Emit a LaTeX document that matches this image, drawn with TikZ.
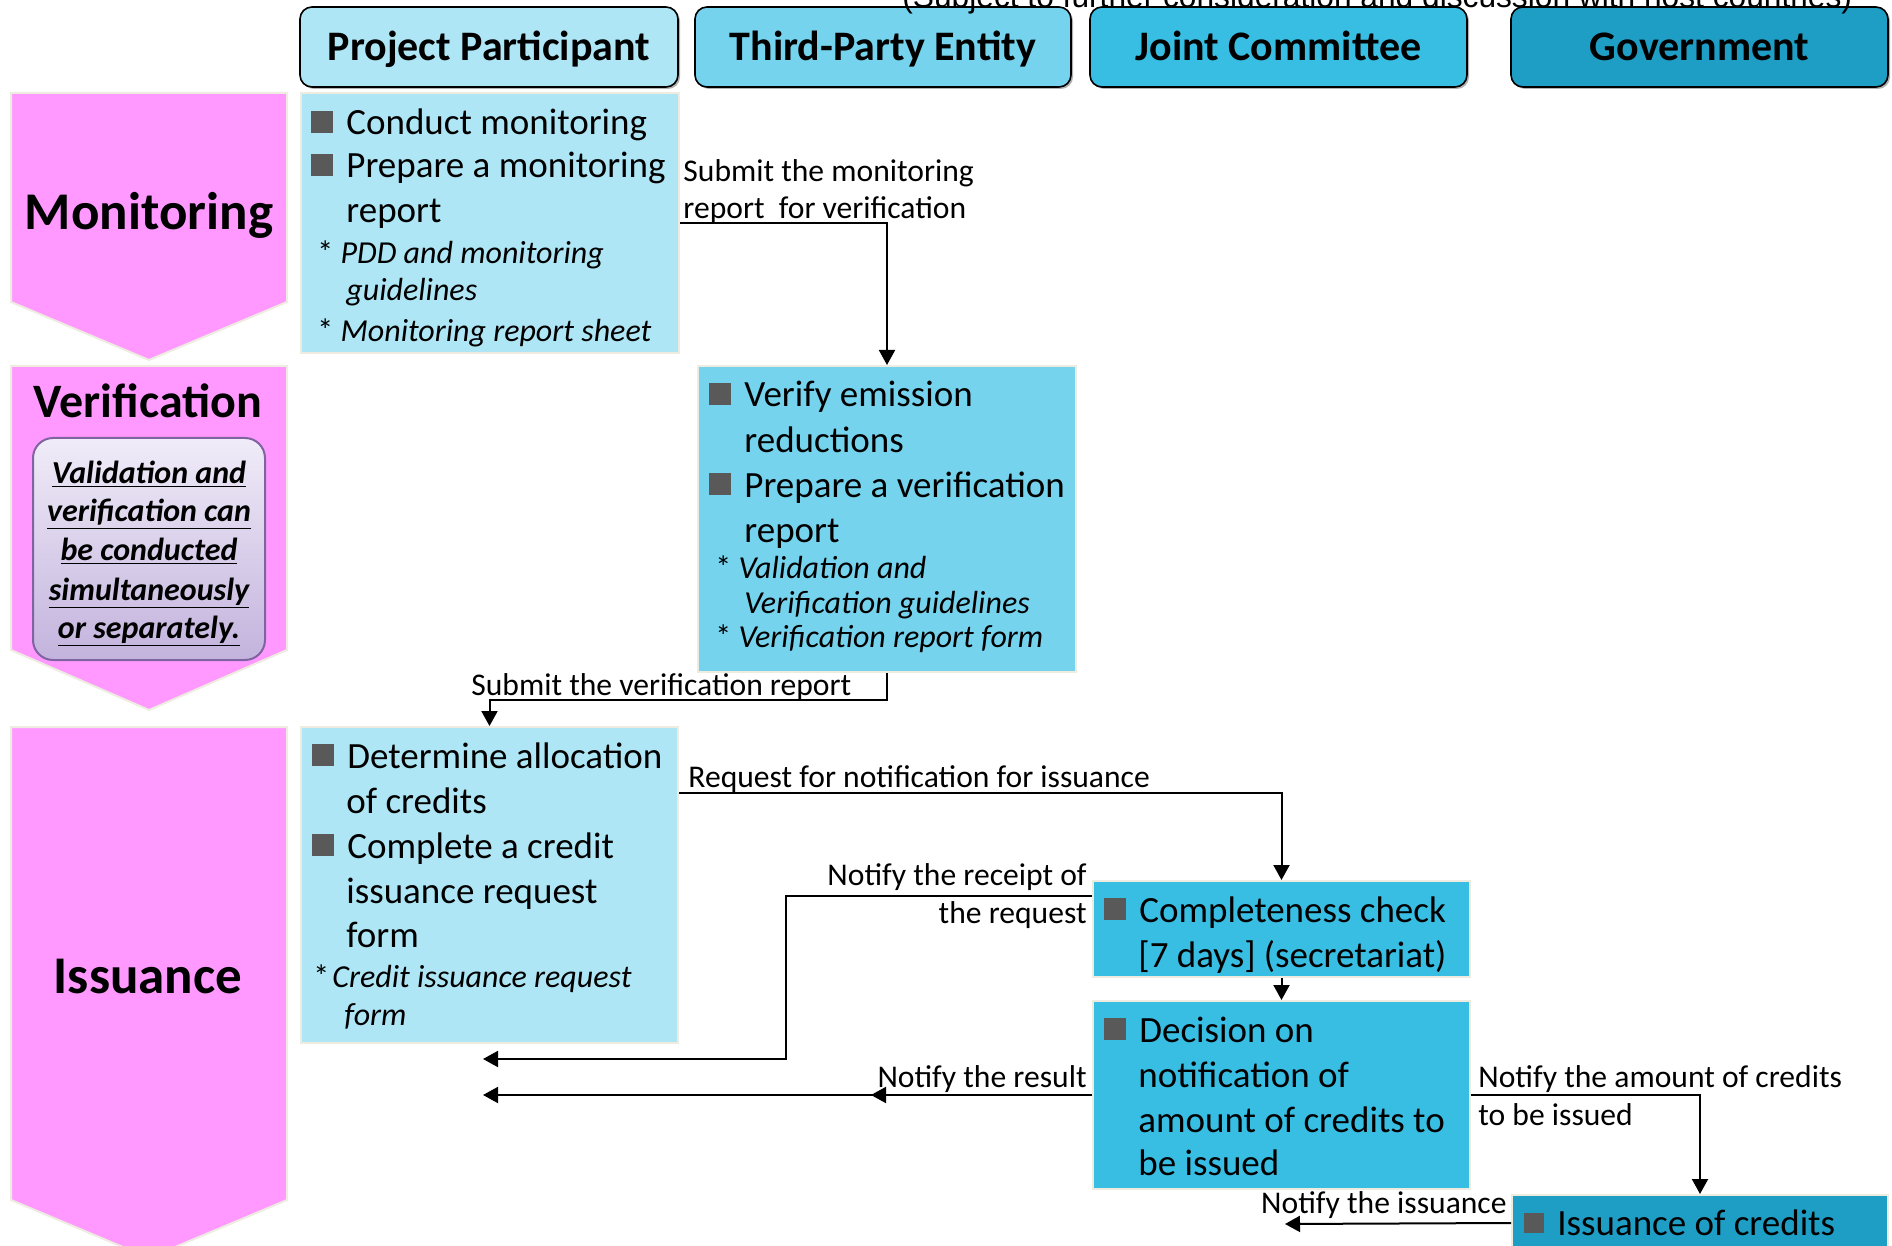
\documentclass[tikz,border=0pt]{standalone}
\usepackage{fontspec}
\setmainfont{Carlito}
\newfontfamily\notefont{Liberation Sans}
\usetikzlibrary{arrows.meta,fit}
\definecolor{pinkL}{HTML}{FF99FF}
\definecolor{ppc}{HTML}{AEE6F5}
\definecolor{tpc}{HTML}{75D3ED}
\definecolor{jcc}{HTML}{38BDE3}
\definecolor{gvc}{HTML}{1E9DC5}
\definecolor{bulgray}{HTML}{595959}
\definecolor{edgec}{HTML}{EEECE1}
\definecolor{noteT}{HTML}{F0ECF8}
\definecolor{noteB}{HTML}{C3B3DD}
\definecolor{noteE}{HTML}{8064A2}
\newcommand\bul{\makebox[17.5pt][l]{\textcolor{bulgray}{\rule[1pt]{11pt}{11pt}}}}
\newcommand\myast{{\upshape*}}
\begin{document}
\begin{tikzpicture}[x=0.5pt,y=-0.5pt,
 hdr/.style={draw=black, line width=0.8pt, rounded corners=6pt, inner sep=0pt},
 shd/.style={fill=black!30, rounded corners=6pt},
 hdrt/.style={anchor=base, inner sep=0pt, font=\fontsize{21pt}{25pt}\selectfont\bfseries},
 box/.style={draw=edgec, line width=1pt, inner sep=0pt},
 chev/.style={fill=pinkL, draw=edgec, line width=1pt},
 main/.style={anchor=base west, inner sep=0pt, font=\fontsize{18.5pt}{22pt}\selectfont},
 sub/.style={anchor=base west, inner sep=0pt, font=\fontsize{16pt}{19pt}\selectfont\itshape},
 lbl/.style={inner sep=0pt, font=\fontsize{15.8pt}{19pt}\selectfont},
 phase/.style={anchor=base, inner sep=0pt, font=\fontsize{26.5pt}{30pt}\selectfont\bfseries},
 notel/.style={anchor=base, inner sep=0pt, font=\fontsize{16pt}{19pt}\selectfont\bfseries\itshape},
 arr/.style={line width=1pt, -{Triangle[length=7.5pt,width=8pt]}},
]
\useasboundingbox (0,0) rectangle (1892,1246);
\clip (0,0) rectangle (1892,1246);
\fill[white] (0,0) rectangle (1892,1246);

% phase chevrons
\path[chev] (11,93) -- (287,93) -- (287,302) -- (149,360) -- (11,302) -- cycle;
\path[chev] (11,366) -- (287,366) -- (287,650) -- (149,710) -- (11,650) -- cycle;
\path[chev] (11,727) -- (287,727) -- (287,1200) -- (149,1258) -- (11,1200) -- cycle;
\node[phase] (lmon) at (149,230) {Monitoring};
\node[phase, font=\fontsize{24pt}{28pt}\selectfont\bfseries] (lver) at (148,418) {Verification};
\node[phase] (liss) at (148,993) {Issuance};

% note box
\node[inner sep=0pt, fit={(33,438) (265,660)}, rounded corners=10pt, top color=noteT, bottom color=noteB, draw=noteE, line width=1pt] (note) {};
\node[notel] (n1) at (149,483) {\underline{Validation and}};
\node[notel] (n2) at (149,522) {\underline{verification can}};
\node[notel] (n3) at (149,560) {\underline{be conducted}};
\node[notel] (n4) at (149,600) {\underline{simultaneously}};
\node[notel] (n5) at (149,638) {\underline{or separately.}};

% headers
\fill[shd] (302,9) rectangle (680,89);
\fill[shd] (697,9) rectangle (1073,89);
\fill[shd] (1092,9) rectangle (1469,89);
\fill[shd] (1513,9) rectangle (1890,89);
\node[hdr, fill=ppc, fit={(300,7) (678,87)}] (hpp) {};
\node[hdr, fill=tpc, fit={(695,7) (1071,87)}] (htp) {};
\node[hdr, fill=jcc, fit={(1090,7) (1467,87)}] (hjc) {};
\node[hdr, fill=gvc, fit={(1511,7) (1888,87)}] (hgv) {};
\node[hdrt] (tpp) at (489,61) {Project Participant};
\node[hdrt] (ttp) at (883,61) {Third-Party Entity};
\node[hdrt] (tjc) at (1278.5,61) {Joint Committee};
\node[hdrt] (tgv) at (1699.5,61) {Government};
\node[anchor=base west, inner sep=0pt, font=\notefont\fontsize{15.85pt}{19pt}\selectfont] (subj) at (902,8) {(Subject to further consideration and discussion with host countries)};

% content boxes
\node[box, fill=ppc, fit={(301,93) (679,353)}] (ppmon) {};
\node[box, fill=tpc, fit={(698,366) (1076,672)}] (tpe) {};
\node[box, fill=ppc, fit={(301,727) (678,1043)}] (ppiss) {};
\node[box, fill=jcc, fit={(1093,881) (1470,977)}] (jc1) {};
\node[box, fill=jcc, fit={(1093,1001) (1470,1189)}] (jc2) {};
\node[box, fill=gvc, fit={(1512,1195) (1888,1270)}] (gov) {};

% PP monitoring text
\node[main] (m1) at (311,135) {\bul Conduct monitoring};
\node[main] (m2) at (311,178) {\bul Prepare a monitoring};
\node[main] (m3) at (346,223) {report};
\node[sub] (m4) at (317,264) {\myast\ PDD and monitoring};
\node[sub] (m5) at (346,301) {guidelines};
\node[sub] (m6) at (317,342) {\myast\ Monitoring report sheet};

% TPE text
\node[main] (v1) at (709,407) {\bul Verify emission};
\node[main] (v2) at (744,452) {reductions};
\node[main] (v3) at (709,497) {\bul Prepare a verification};
\node[main] (v4) at (744,542) {report};
\node[sub] (v5) at (715,578) {\myast\ Validation and};
\node[sub] (v6) at (744,613) {Verification guidelines};
\node[sub] (v7) at (715,647) {\myast\ Verification report form};

% PP issuance text
\node[main] (i1) at (312,768) {\bul Determine allocation};
\node[main] (i2) at (346,813) {of credits};
\node[main] (i3) at (312,858) {\bul Complete a credit};
\node[main] (i4) at (346,903) {issuance request};
\node[main] (i5) at (346,947) {form};
\node[sub] (i6) at (313,987) {\myast\hspace{1.5pt}Credit issuance request};
\node[sub] (i7) at (344,1025) {form};

% JC text
\node[main] (c1) at (1104,922) {\bul Completeness check};
\node[main] (c2) at (1138,967) {[7 days] (secretariat)};
\node[main] (d1) at (1104,1042) {\bul Decision on};
\node[main] (d2) at (1138,1087) {notification of};
\node[main] (d3) at (1138,1132) {amount of credits to};
\node[main] (d4) at (1138,1175) {be issued};

% Gov text
\node[main] (g1) at (1524,1235) {\makebox[16.5pt][l]{\textcolor{bulgray}{\rule[1pt]{10pt}{10pt}}}Issuance of credits};

% connector labels
\node[lbl, anchor=base west] (a1) at (683,182) {Submit the monitoring};
\node[lbl, anchor=base west] (a2) at (683,219) {report\ \ for verification};
\node[lbl, anchor=base west] (a3) at (471,695) {Submit the verification report};
\node[lbl, anchor=base west] (a4) at (688,787) {Request for notification for issuance};
\node[lbl, anchor=base east] (a5) at (1087,885) {Notify the receipt of};
\node[lbl, anchor=base east] (a6) at (1087,923) {the request};
\node[lbl, anchor=base east] (a7) at (1087,1087) {Notify the result};
\node[lbl, anchor=base west] (a8) at (1478,1087) {Notify the amount of credits};
\node[lbl, anchor=base west] (a9) at (1478,1125) {to be issued};
\node[lbl, anchor=base east] (a10) at (1507,1213) {Notify the issuance};

% free ends
\coordinate (ppin1) at (483,1059);
\coordinate (ppin2) at (483,1095);
\coordinate (tpin) at (871,1095);
\coordinate (jcin) at (1285,1224);

% connectors
\draw[arr] (ppmon.east) -| (tpe.north);
\draw[arr] (tpe.south) -- ++(0,27) -| (ppiss.north);
\draw[arr] (ppiss.north east) ++(0,67) -| (jc1.north);
\draw[arr] (jc1.north west) ++(0,16) -- ++(-306,0) |- (ppin1);
\draw[arr] (jc2.west) -- (ppin2);
\draw[arr] (jc2.west) -- (tpin);
\draw[arr] (jc1.south) -- (jc2.north);
\draw[arr] (jc2.east) -| (gov.north);
\draw[arr] (gov.north west) ++(0,29) -- (jcin);
\end{tikzpicture}
\end{document}
